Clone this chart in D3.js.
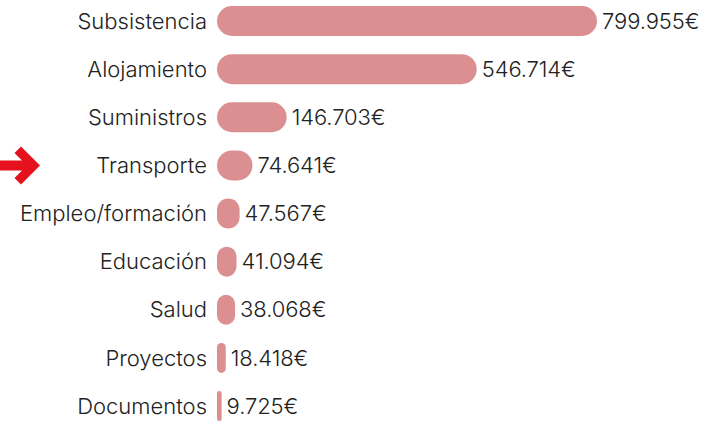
<!DOCTYPE html>
<html>
<head>
<meta charset="utf-8">
<script src="https://cdn.jsdelivr.net/npm/d3@7"></script>
<style>
  body { margin: 0; background: #fff; }
  svg { display: block; }
  text { font-family: Inter, "Noto Sans", sans-serif; fill: #222; font-weight: 300; }
</style>
</head>
<body>
<svg id="grafico" width="707" height="421"></svg>
<script>
// datos
const categorias = ["Subsistencia", "Alojamiento", "Suministros", "Transporte", "Empleo/formación", "Educación", "Salud", "Proyectos", "Documentos"];
const valores = [799955, 546714, 146703, 74641, 47567, 41094, 38068, 18418, 9725];
const destacado = "Transporte";

const inicioBarras = 217;
const altoBarra = 30;

const es = d3.formatLocale({ decimal: ",", thousands: ".", grouping: [3], currency: ["", "€"] });
const formato = es.format("$,.0f");

const svg = d3.select("#grafico");

const x = d3.scaleLinear()
    .domain([0, d3.max(valores)])
    .range([inicioBarras, 597]);

const y = d3.scalePoint()
    .domain(categorias)
    .range([21, 406]);

const filas = svg.selectAll("g.fila")
    .data(categorias.map((c, i) => ({ cat: c, val: valores[i] })))
    .join("g")
    .attr("class", "fila")
    .attr("transform", d => "translate(0," + y(d.cat) + ")");

// barras redondeadas
filas.append("rect")
    .attr("x", x(0))
    .attr("y", -altoBarra / 2)
    .attr("width", d => x(d.val) - x(0))
    .attr("height", altoBarra)
    .attr("rx", d => Math.min(15, (x(d.val) - x(0)) / 2))
    .attr("ry", d => Math.min(15, (x(d.val) - x(0)) / 2))
    .attr("fill", "#db8f90");

// nombres de categoría
filas.append("text")
    .attr("x", inicioBarras - 10)
    .attr("dy", "0.35em")
    .attr("text-anchor", "end")
    .style("font-size", "22px")
    .text(d => d.cat);

// valores
filas.append("text")
    .attr("x", d => x(d.val) + 5)
    .attr("dy", "0.35em")
    .style("font-size", "22px")
    .style("letter-spacing", "-0.1px")
    .text(d => formato(d.val));

//-------------------flecha roja junto a la categoría destacada-----------------
const cy = y(destacado);
const flecha = [
    [0, -5], [22, -5], [14.5, -12.5], [21, -19], [40, 0],
    [21, 19], [14.5, 12.5], [22, 5], [0, 5]
];
svg.append("path")
    .attr("d", d3.line()(flecha.map(p => [p[0], p[1] + cy])) + "Z")
    .attr("fill", "#e5121d");
</script>
</body>
</html>
